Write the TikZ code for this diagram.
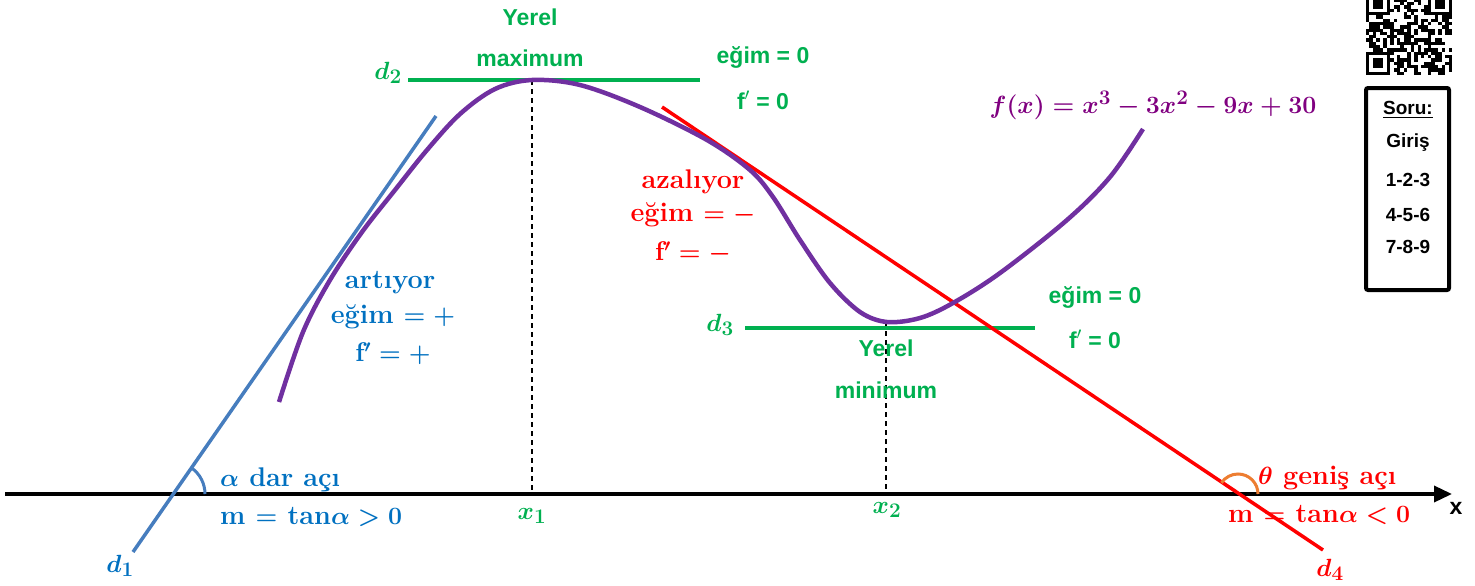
\documentclass[tikz,border=0pt]{standalone}
\usepackage{amsmath,amssymb}
\usepackage{fontspec}
\usepackage{xcolor}
\usetikzlibrary{arrows.meta,positioning,calc}
\newfontfamily\sansb{Liberation Sans}
\definecolor{CurvePur}{RGB}{112,48,160}
\definecolor{FxPur}{RGB}{128,0,128}
\definecolor{TanBlue}{RGB}{70,125,190}
\definecolor{TxtBlue}{RGB}{0,112,192}
\definecolor{ExtGreen}{RGB}{0,176,80}
\definecolor{DecRed}{RGB}{255,0,0}
\definecolor{AngOrange}{RGB}{237,125,49}
\tikzset{
  pcurve/.style={line width=4.5pt,CurvePur},
  tline/.style={line width=3.5pt},
  axisline/.style={-{Triangle[length=18pt,width=16pt]},line width=3.5pt,black},
  guide/.style={dashed,dash pattern=on 5pt off 4pt,line width=1.5pt,black},
  anglearc/.style={line width=3pt},
  greenlab/.style={font=\sansb\bfseries\fontsize{23}{27}\selectfont,text=ExtGreen,inner sep=0pt},
  mathlab/.style={font=\boldmath\fontsize{29}{34}\selectfont,inner sep=0pt},
  bluelab/.style={font=\bfseries\boldmath\fontsize{27}{32}\selectfont,text=TxtBlue,inner sep=0pt},
  redlab/.style={font=\bfseries\boldmath\fontsize{27}{32}\selectfont,text=DecRed,inner sep=0pt},
  sorulab/.style={font=\sansb\bfseries\fontsize{19}{23}\selectfont,inner sep=0pt},
}

\begin{document}
\begin{tikzpicture}[x=1pt,y=-1pt,>=Stealth]
  \useasboundingbox (0,0) rectangle (1475,586);

  % x axis
  \coordinate (xs) at (5,494);
  \coordinate (xe) at (1452,494);
  \draw[axisline] (xs) -- (xe);
  \node[font=\sansb\bfseries\fontsize{23}{27}\selectfont,inner sep=0pt] (xlab) at (1456,508) {x};

  % guides to x1 and x2
  \coordinate (maxp) at (532,80);
  \coordinate (minp) at (886,322);
  \coordinate (x1p) at (532,494);
  \coordinate (x2p) at (886,494);
  \draw[guide] (maxp) -- (x1p);
  \draw[guide] (minp) -- (x2p);

  % tangent lines
  \coordinate (d1a) at (133,552);
  \coordinate (d1b) at (436,116);
  \coordinate (d2a) at (408,80);
  \coordinate (d2b) at (700,80);
  \coordinate (d3a) at (745,328);
  \coordinate (d3b) at (1035,328);
  \coordinate (d4a) at (662,107);
  \coordinate (d4b) at (1323,550);
  \draw[tline,TanBlue] (d1a) -- (d1b);
  \draw[tline,ExtGreen] (d2a) -- (d2b);
  \draw[tline,ExtGreen] (d3a) -- (d3b);
  \draw[tline,DecRed] (d4a) -- (d4b);

  % the function
  \draw[pcurve] plot[smooth,tension=0.55] coordinates {
    (279,402) (303,332) (330,280) (362,232) (395,190) (427,150) (460,114)
    (495,89) (532,80) (580,85) (640,107) (707,140) (750,170) (773,197)
    (800,240) (830,283) (860,312) (887,322) (920,318) (953,303) (1000,273)
    (1067,220) (1110,177) (1143,129)};

  % angles
  \coordinate (c1) at (173,494);
  \coordinate (c4) at (1238,494);
  \draw[anglearc,TanBlue] ($(c1)+(32,0)$) arc[start angle=0,end angle=55,radius=32pt];
  \draw[anglearc,AngOrange] ($(c4)+(20,0)$) arc[start angle=0,end angle=146,radius=20pt];

  % labels
  \node[greenlab] (yer1) at (530,17) {Yerel};
  \node[greenlab] (max1) at (530,58) {maximum};
  \node[mathlab,text=ExtGreen] (d2) at (388,73) {$d_2$};
  \node[greenlab] (eg2) at (763,57) {eğim = 0};
  \node[greenlab] (fp2) at (763,100) {f${}'$ = 0};
  \node[mathlab,text=FxPur] (fx) at (1153,105) {$f(x)=x^3-3x^2-9x+30$};

  \node[redlab] (az) at (693,182) {azalıyor};
  \node[redlab] (egr) at (693,215) {eğim $=-$};
  \node[redlab] (fpr) at (693,253) {f$'=-$};

  \node[bluelab] (art) at (390,283) {artıyor};
  \node[bluelab] (egb) at (393,317) {eğim $=+$};
  \node[bluelab] (fpb) at (393,354) {f$'=+$};

  \node[mathlab,text=ExtGreen] (d3) at (720,325) {$d_3$};
  \node[greenlab] (eg3) at (1095,297) {eğim = 0};
  \node[greenlab] (fp3) at (1095,339) {f${}'$ = 0};
  \node[greenlab] (yer2) at (886,348) {Yerel};
  \node[greenlab] (min2) at (886,390) {minimum};

  \node[mathlab,text=ExtGreen] (x1) at (532,516) {$x_1$};
  \node[mathlab,text=ExtGreen] (x2) at (887,510) {$x_2$};

  \node[bluelab,anchor=west] (alf) at (220,480) {$\alpha$ dar açı};
  \node[bluelab,anchor=west] (mpos) at (220,517) {m $=$ tan$\alpha>0$};
  \node[redlab,anchor=west] (tet) at (1258,478) {$\theta$ geniş açı};
  \node[redlab,anchor=west] (mneg) at (1228,515) {m $=$ tan$\alpha<0$};

  \node[mathlab,text=TxtBlue] (d1) at (120,566) {$d_1$};
  \node[mathlab,text=DecRed] (d4) at (1330,570) {$d_4$};

  % qr code
  \pgfmathsetseed{11}
  \foreach \i in {0,...,24}{
    \foreach \j in {0,...,24}{
      \pgfmathtruncatemacro\qon{rnd<0.5 ? 1 : 0}
      \ifnum\qon=1
        \fill (1366+\i*3.44,-8+\j*3.32) rectangle ++(3.44,3.32);
      \fi
    }
  }
  \foreach \fx/\fy in {0/0,18/0,0/18}{
    \fill[white] (1366+\fx*3.44,-8+\fy*3.32) rectangle ++(7*3.44,7*3.32);
    \fill (1366+\fx*3.44,-8+\fy*3.32) rectangle ++(7*3.44,7*3.32);
    \fill[white] (1366+\fx*3.44+3.44,-8+\fy*3.32+3.32) rectangle ++(5*3.44,5*3.32);
    \fill (1366+\fx*3.44+6.88,-8+\fy*3.32+6.64) rectangle ++(3*3.44,3*3.32);
  }

  % soru box
  \draw[line width=4pt,rounded corners=2pt] (1366,88) rectangle (1449,290);
  \node[sorulab] (soru) at (1408,110) {\underline{Soru:}};
  \node[sorulab] (giris) at (1408,143) {Giriş};
  \node[sorulab] (s1) at (1408,180) {1-2-3};
  \node[sorulab] (s2) at (1408,215) {4-5-6};
  \node[sorulab] (s3) at (1408,247) {7-8-9};
\end{tikzpicture}
\end{document}
